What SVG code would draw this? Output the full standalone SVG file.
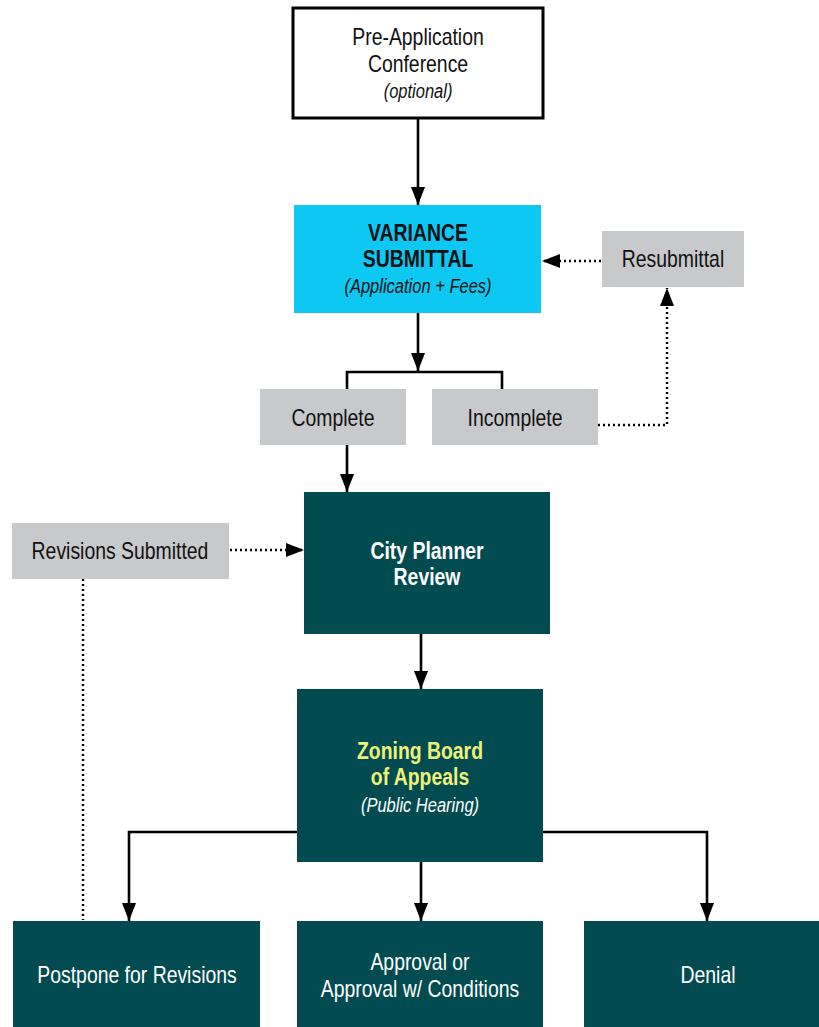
<svg xmlns="http://www.w3.org/2000/svg" width="819" height="1027" viewBox="0 0 819 1027">
<style>
text{font-family:"Liberation Sans",Arial,sans-serif;font-size:20px;text-anchor:middle}
.b{font-weight:bold}
.i{font-style:italic;font-size:17px}
.w{fill:#ffffff}
.y{fill:#EEF27A}
.k{fill:#111111}
.gray{fill:#C8C9CB}
.teal{fill:#024B51}
.line{fill:none;stroke:#000;stroke-width:2.6}
.dot{fill:none;stroke:#000;stroke-width:2.4;stroke-dasharray:2 3}
</style>
<defs>
<marker id="ah" markerUnits="userSpaceOnUse" markerWidth="18" markerHeight="14" refX="18" refY="7" orient="auto">
<path d="M0,0 L18,7 L0,14 z" fill="#000"/>
</marker>
</defs>
<rect width="819" height="1027" fill="#fff"/>
<g id="connectors">
<path class="line" d="M418,119 V205" marker-end="url(#ah)"/>
<path class="line" d="M418,313 V371" marker-end="url(#ah)"/>
<path class="line" d="M347,390 V372 H502 V390"/>
<path class="line" d="M347,445 V492" marker-end="url(#ah)"/>
<path class="line" d="M421,634 V689" marker-end="url(#ah)"/>
<path class="line" d="M297,832 H129 V921" marker-end="url(#ah)"/>
<path class="line" d="M421,862 V921" marker-end="url(#ah)"/>
<path class="line" d="M543,832 H707 V921" marker-end="url(#ah)"/>
<path class="dot" d="M601,261 H542" marker-end="url(#ah)"/>
<path class="dot" d="M598,425 H667 V288" marker-end="url(#ah)"/>
<path class="dot" d="M230,550 H304" marker-end="url(#ah)"/>
<path class="dot" d="M83,579 V920"/>
</g>
<g id="pre-application">
<rect x="293" y="8" width="250" height="110" fill="#fff" stroke="#000" stroke-width="3"/>
<text transform="translate(418,45) scale(.97,1.18)" class="k">Pre-Application</text>
<text transform="translate(418,72) scale(.97,1.18)" class="k">Conference</text>
<text transform="translate(418,98) scale(.97,1.18)" class="i k">(optional)</text>
</g>
<g id="variance">
<rect x="294" y="205" width="247" height="108" fill="#0DC8F2"/>
<text transform="translate(418,241) scale(.97,1.18)" class="b k">VARIANCE</text>
<text transform="translate(418,267) scale(.97,1.18)" class="b k">SUBMITTAL</text>
<text transform="translate(418,293) scale(.97,1.18)" class="i k">(Application + Fees)</text>
</g>
<g id="resubmittal">
<rect x="602" y="231" width="142" height="56" class="gray"/>
<text transform="translate(673,267) scale(.97,1.18)" class="k">Resubmittal</text>
</g>
<g id="complete">
<rect x="260" y="389" width="146" height="56" class="gray"/>
<text transform="translate(333,426) scale(.97,1.18)" class="k">Complete</text>
</g>
<g id="incomplete">
<rect x="432" y="389" width="166" height="56" class="gray"/>
<text transform="translate(515,426) scale(.97,1.18)" class="k">Incomplete</text>
</g>
<g id="revisions">
<rect x="12" y="523" width="217" height="56" class="gray"/>
<text transform="translate(120,559) scale(.97,1.18)" class="k">Revisions Submitted</text>
</g>
<g id="city-planner">
<rect x="304" y="492" width="246" height="142" class="teal"/>
<text transform="translate(427,559) scale(.97,1.18)" class="b w">City Planner</text>
<text transform="translate(427,585) scale(.97,1.18)" class="b w">Review</text>
</g>
<g id="zoning">
<rect x="297" y="689" width="246" height="173" class="teal"/>
<text transform="translate(420,759) scale(.97,1.18)" class="b y">Zoning Board</text>
<text transform="translate(420,785) scale(.97,1.18)" class="b y">of Appeals</text>
<text transform="translate(420,812) scale(.97,1.18)" class="i w">(Public Hearing)</text>
</g>
<g id="postpone">
<rect x="13" y="921" width="247" height="106" class="teal"/>
<text transform="translate(137,983) scale(.97,1.18)" class="w">Postpone for Revisions</text>
</g>
<g id="approval">
<rect x="297" y="921" width="246" height="106" class="teal"/>
<text transform="translate(420,970) scale(.97,1.18)" class="w">Approval or</text>
<text transform="translate(420,997) scale(.97,1.18)" class="w">Approval w/ Conditions</text>
</g>
<g id="denial">
<rect x="584" y="921" width="235" height="106" class="teal"/>
<text transform="translate(708,983) scale(.97,1.18)" class="w">Denial</text>
</g>
</svg>
